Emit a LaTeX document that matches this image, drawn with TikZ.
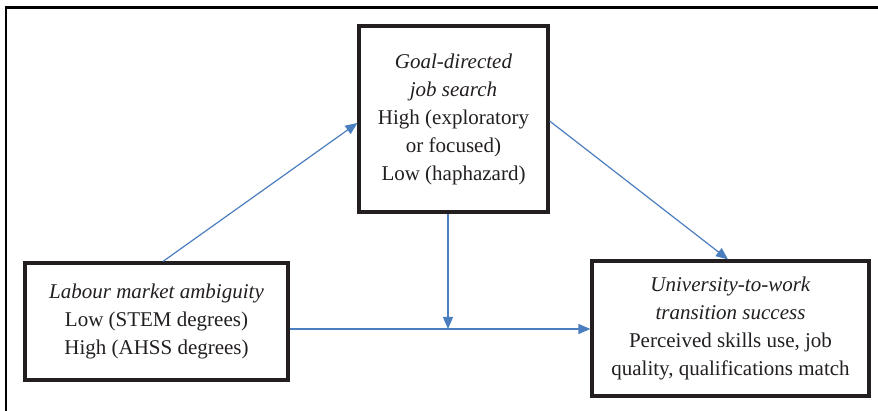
\documentclass[tikz,border=0pt]{standalone}
\usepackage{fontspec}
\setmainfont{Liberation Serif}
\usetikzlibrary{arrows.meta,calc}
\definecolor{arrowblue}{HTML}{4A7EBF}
\definecolor{textgray}{HTML}{231F20}
\begin{document}
\begin{tikzpicture}[x=1pt,y=-1pt,
  boxnode/.style={draw=textgray,line width=3.2pt,fill=white,align=center,inner sep=0pt,
    text=textgray,font=\fontsize{21}{28}\selectfont},
  link/.style={draw=arrowblue,line width=1.2pt,-{Triangle[length=12pt,width=10pt]}}]
\useasboundingbox (0,0) rectangle (878,411);
\draw[line width=2.6pt] (6,411) -- (6,7.5) -- (878,7.5);
\node[boxnode,minimum width=189pt,minimum height=186pt] (goal) at (453.5,119)
  {\textit{Goal-directed}\\\textit{job search}\\High (exploratory\\or focused)\\Low (haphazard)};
\node[boxnode,minimum width=263pt,minimum height=117pt] (lab) at (156.5,321.5)
  {\textit{Labour market ambiguity}\\Low (STEM degrees)\\High (AHSS degrees)};
\node[boxnode,minimum width=277pt,minimum height=135pt] (out) at (730.5,328.5)
  {\textit{University-to-work}\\\textit{transition success}\\Perceived skills use, job\\quality, qualifications match};
\coordinate (m) at (448,329);
\draw[link] ($(lab.north)+(6.5,0)$) -- ($(goal.west)+(0,4)$);
\draw[link] ($(goal.east)+(0,2)$) -- ($(out.north)+(-2.5,0)$);
\draw[link] (goal.south -| m) -- (m);
\draw[link] (lab.east |- m) -- (out.west |- m);
\end{tikzpicture}
\end{document}
